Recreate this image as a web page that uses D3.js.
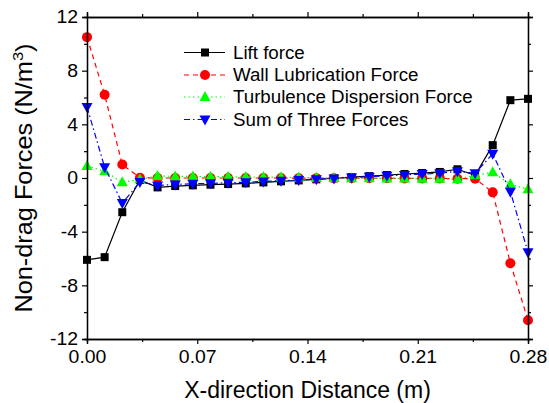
<!DOCTYPE html>
<html>
<head>
<meta charset="utf-8">
<script src="https://cdn.jsdelivr.net/npm/d3@7/dist/d3.min.js"></script>
<style>
  html, body { margin: 0; padding: 0; background: #fff; }
  svg { display: block; font-family: "Liberation Sans", Arial, sans-serif; }
</style>
</head>
<body>
<svg id="chart" width="549" height="403"></svg>
<script>
// X positions across the channel (m)
const xDistance = [0.0000, 0.0112, 0.0224, 0.0336, 0.0448, 0.0560, 0.0672, 0.0784, 0.0896, 0.1008,
                   0.1120, 0.1232, 0.1344, 0.1456, 0.1568, 0.1680, 0.1792, 0.1904, 0.2016, 0.2128,
                   0.2240, 0.2352, 0.2464, 0.2576, 0.2688, 0.2800];

// Non-drag force components (N/m^3)
const liftForce = [-6.1, -5.9, -2.55, -0.15, -0.7, -0.6, -0.55, -0.5, -0.45, -0.4,
                   -0.33, -0.25, -0.18, -0.1, -0.02, 0.06, 0.14, 0.22, 0.3, 0.37,
                   0.45, 0.65, 0.2, 2.45, 5.8, 5.9];
const wallLubrication = [10.5, 6.2, 1.0, 0.02, 0.0, 0.0, 0.0, 0.0, 0.0, 0.0,
                         0.0, 0.0, -0.01, -0.01, -0.01, -0.02, -0.02, -0.02, -0.03, -0.03,
                         -0.03, -0.05, -0.05, -1.07, -6.35, -10.6];
const turbulenceDispersion = [0.9, 0.5, -0.32, -0.1, 0.15, 0.12, 0.12, 0.1, 0.1, 0.08,
                              0.07, 0.05, 0.04, 0.02, 0.0, -0.01, -0.02, -0.03, -0.04, -0.05,
                              -0.06, -0.1, 0.2, 0.42, -0.47, -0.84];
const sumOfForces = [5.3, 0.8, -1.87, -0.3, -0.55, -0.48, -0.43, -0.4, -0.35, -0.32,
                     -0.26, -0.2, -0.15, -0.09, -0.03, 0.03, 0.1, 0.17, 0.23, 0.29,
                     0.36, 0.5, 0.35, 1.8, -1.02, -5.54];

const xTicks = [0.00, 0.07, 0.14, 0.21, 0.28];
const xTickLabels = ["0.00", "0.07", "0.14", "0.21", "0.28"];
const yTicks = [-12, -8, -4, 0, 4, 8, 12];
const yTickLabels = ["-12", "-8", "-4", "0", "4", "8", "12"];
const seriesNames = ["Lift force", "Wall Lubrication Force", "Turbulence Dispersion Force", "Sum of Three Forces"];

const svg = d3.select("#chart");
const plotLeft = 87, plotRight = 528, plotTop = 17, plotBottom = 339;

const x = d3.scaleLinear().domain([0, 0.28]).range([plotLeft, plotRight]);
const y = d3.scaleLinear().domain([-12, 12]).range([plotBottom, plotTop]);

const series = [
  { name: seriesNames[0], values: liftForce, color: "#000000", dash: null, marker: "square" },
  { name: seriesNames[1], values: wallLubrication, color: "#ff0000", dash: "5,4", marker: "circle" },
  { name: seriesNames[2], values: turbulenceDispersion, color: "#00ff00", dash: "1.5,3", marker: "up" },
  { name: seriesNames[3], values: sumOfForces, color: "#0000ff", dash: "6,3,1.5,3", marker: "down" }
];

function drawMarker(g, type, cx, cy, color) {
  if (type === "square") {
    g.append("rect").attr("x", cx - 4).attr("y", cy - 4).attr("width", 8).attr("height", 8).attr("fill", color);
  } else if (type === "circle") {
    g.append("circle").attr("cx", cx).attr("cy", cy).attr("r", 5).attr("fill", color);
  } else if (type === "up") {
    g.append("path").attr("d", `M${cx},${cy - 6}L${cx + 5.5},${cy + 4}L${cx - 5.5},${cy + 4}Z`).attr("fill", color);
  } else {
    g.append("path").attr("d", `M${cx},${cy + 6}L${cx + 5.5},${cy - 4}L${cx - 5.5},${cy - 4}Z`).attr("fill", color);
  }
}

// Series lines and markers
const line = d3.line().x((d, i) => x(xDistance[i])).y(d => y(d));
const plot = svg.append("g");
series.forEach(s => {
  plot.append("path")
    .datum(s.values)
    .attr("d", line)
    .attr("fill", "none")
    .attr("stroke", s.color)
    .attr("stroke-width", 1.2)
    .attr("stroke-dasharray", s.dash);
  const mg = plot.append("g");
  s.values.forEach((v, i) => drawMarker(mg, s.marker, x(xDistance[i]), y(v), s.color));
});

// Axes: major + minor ticks, outward on all four sides
const minorX = d3.range(0.035, 0.28, 0.07);
const minorY = d3.range(-10, 12, 4);
const TICK_STRETCH = 1.08;
const axisStyle = g => {
  g.selectAll("path.domain").attr("stroke", "#000").attr("stroke-width", 1.3);
  g.selectAll(".tick line").attr("stroke", "#000").attr("stroke-width", 1.2);
  g.selectAll(".tick text").attr("font-size", 18).attr("fill", "#000")
    .attr("font-family", "'Liberation Sans', Arial, sans-serif");
};
// widen tick labels slightly about their anchor point
const stretchLabels = (g, anchorX) => {
  g.selectAll(".tick text").each(function () {
    const t = d3.select(this);
    const tx = anchorX === "end" ? +t.attr("x") : 0;
    t.attr("transform", `translate(${tx},0) scale(${TICK_STRETCH},1) translate(${-tx},0)`);
  });
};

svg.append("g").attr("transform", `translate(0,${plotBottom})`)
  .call(d3.axisBottom(x).tickValues(xTicks).tickFormat((d, i) => xTickLabels[i]).tickSizeOuter(0).tickSize(5).tickPadding(6))
  .call(axisStyle).call(g => stretchLabels(g, "middle"));
svg.append("g").attr("transform", `translate(0,${plotBottom})`)
  .call(d3.axisBottom(x).tickValues(minorX).tickFormat("").tickSizeOuter(0).tickSize(3)).call(axisStyle);

svg.append("g").attr("transform", `translate(0,${plotTop})`)
  .call(d3.axisTop(x).tickValues(xTicks).tickFormat("").tickSizeOuter(0).tickSize(5)).call(axisStyle);
svg.append("g").attr("transform", `translate(0,${plotTop})`)
  .call(d3.axisTop(x).tickValues(minorX).tickFormat("").tickSizeOuter(0).tickSize(3)).call(axisStyle);

svg.append("g").attr("transform", `translate(${plotLeft},0)`)
  .call(d3.axisLeft(y).tickValues(yTicks).tickFormat((d, i) => yTickLabels[i]).tickSizeOuter(0).tickSize(5).tickPadding(4))
  .call(axisStyle).call(g => stretchLabels(g, "end"));
svg.append("g").attr("transform", `translate(${plotLeft},0)`)
  .call(d3.axisLeft(y).tickValues(minorY).tickFormat("").tickSizeOuter(0).tickSize(3)).call(axisStyle);

svg.append("g").attr("transform", `translate(${plotRight},0)`)
  .call(d3.axisRight(y).tickValues(yTicks).tickFormat("").tickSizeOuter(0).tickSize(5)).call(axisStyle);
svg.append("g").attr("transform", `translate(${plotRight},0)`)
  .call(d3.axisRight(y).tickValues(minorY).tickFormat("").tickSizeOuter(0).tickSize(3)).call(axisStyle);

// Axis titles
svg.append("text")
  .attr("x", (plotLeft + plotRight) / 2).attr("y", 397.5)
  .attr("text-anchor", "middle").attr("font-size", 23).attr("fill", "#000")
  .text("X-direction Distance (m)");

const yTitle = svg.append("text")
  .attr("transform", `translate(32,${(plotTop + plotBottom) / 2}) rotate(-90) scale(1.1,1)`)
  .attr("text-anchor", "middle").attr("font-size", 23).attr("fill", "#000");
yTitle.append("tspan").text("Non-drag Forces (N/m");
yTitle.append("tspan").attr("font-size", 15).attr("dy", -9).text("3");
yTitle.append("tspan").attr("dy", 9).text(")");

// Legend
const legend = svg.append("g");
const legendRows = [52.5, 75, 97, 119.5];
series.forEach((s, i) => {
  const ly = legendRows[i];
  legend.append("line")
    .attr("x1", 184).attr("x2", 225).attr("y1", ly).attr("y2", ly)
    .attr("stroke", s.color).attr("stroke-width", 1.2).attr("stroke-dasharray", s.dash);
  drawMarker(legend, s.marker, 205, ly, s.color);
  legend.append("text")
    .attr("transform", `translate(233,${ly + 6}) scale(1.07,1)`)
    .attr("font-size", 17.5).attr("fill", "#000")
    .text(s.name);
});
</script>
</body>
</html>
